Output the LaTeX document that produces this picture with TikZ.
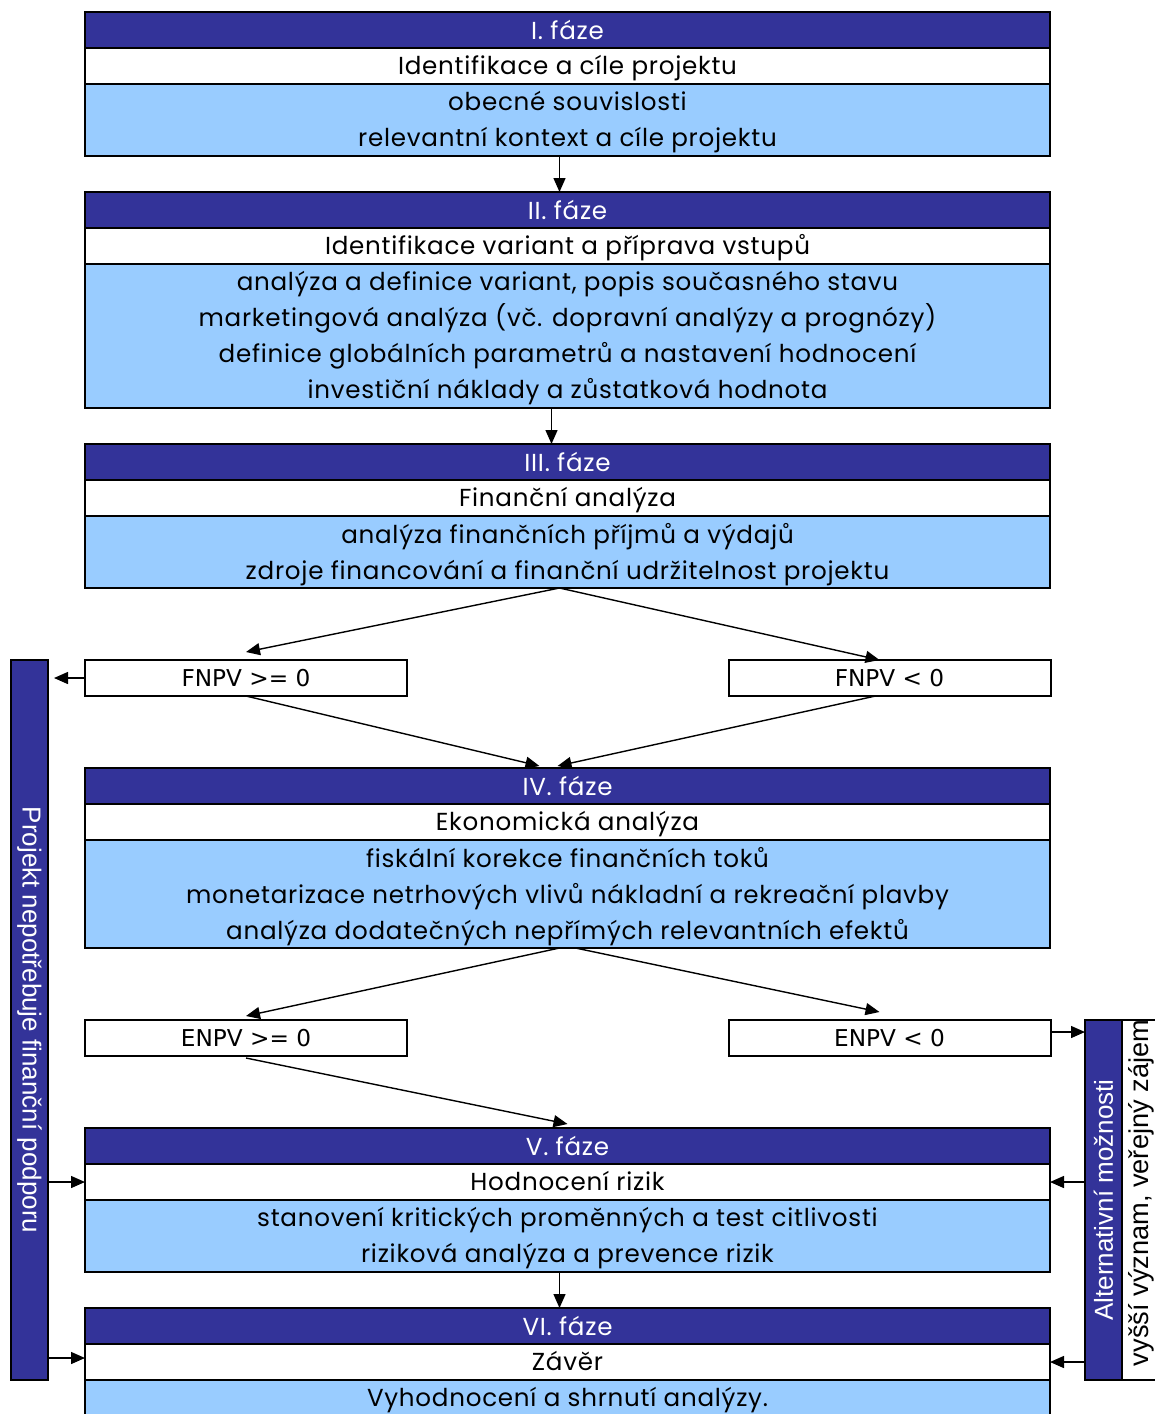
\documentclass[tikz,border=0pt]{standalone}
\usepackage{fontspec}
\setmainfont[LetterSpace=3]{Poppins}
\newfontfamily\boxfont{DejaVu Sans}
\newfontfamily\barfont{Liberation Sans}
\usetikzlibrary{positioning, arrows.meta}
\definecolor{phaseblue}{HTML}{333399}
\definecolor{bodyblue}{HTML}{99CCFF}
\tikzstyle{phasehead} = [rectangle, draw=black, line width=1pt, fill=phaseblue, text=white, minimum width=482.5pt, minimum height=18pt, inner sep=0pt, outer sep=0pt, font=\fontsize{12.3}{18}\selectfont]
\tikzstyle{phasetitle} = [phasehead, fill=white, text=black, text depth=1.5pt]
\tikzstyle{phasebody} = [phasehead, fill=bodyblue, text=black, align=center, text depth=1pt]
\tikzstyle{result} = [rectangle, draw=black, line width=1pt, fill=white, minimum width=161pt, minimum height=18pt, inner sep=0pt, outer sep=0pt, font=\boxfont\fontsize{11.6}{13}\selectfont]
\tikzstyle{sidebar} = [rectangle, draw=black, line width=1pt, fill=phaseblue, text=white, minimum height=18.5pt, inner sep=0pt, outer sep=0pt, font=\barfont\fontsize{13}{15}\selectfont]
\tikzstyle{arrow} = [line width=0.7pt, -{Triangle[length=7pt,width=6pt]}]
\tikzstyle{line} = [line width=0.7pt]

\begin{document}
\begin{tikzpicture}[x=0.5pt, y=-0.5pt]
    \useasboundingbox (0,0) rectangle (1155,1414);
    \clip (0,0) rectangle (1155,1414);

    % I. faze
    \node (p1h) [phasehead] at (567.5,30) {I. fáze};
    \node (p1t) [phasetitle, below=0pt of p1h] {Identifikace a cíle projektu};
    \node (p1b) [phasebody, below=0pt of p1t, minimum height=36pt] {obecné souvislosti\\relevantní kontext a cíle projektu};

    % II. faze
    \node (p2h) [phasehead] at (567.5,210) {II. fáze};
    \node (p2t) [phasetitle, below=0pt of p2h] {Identifikace variant a příprava vstupů};
    \node (p2b) [phasebody, below=0pt of p2t, minimum height=72pt] {analýza a definice variant, popis současného stavu\\marketingová analýza (vč. dopravní analýzy a prognózy)\\definice globálních parametrů a nastavení hodnocení\\investiční náklady a zůstatková hodnota};

    % III. faze
    \node (p3h) [phasehead] at (567.5,462) {III. fáze};
    \node (p3t) [phasetitle, below=0pt of p3h] {Finanční analýza};
    \node (p3b) [phasebody, below=0pt of p3t, minimum height=36pt] {analýza finančních příjmů a výdajů\\zdroje financování a finanční udržitelnost projektu};

    \node (fnpv1) [result] at (246,678) {FNPV >= 0};
    \node (fnpv2) [result] at (889.5,678) {FNPV < 0};

    % IV. faze
    \node (p4h) [phasehead] at (567.5,786) {IV. fáze};
    \node (p4t) [phasetitle, below=0pt of p4h] {Ekonomická analýza};
    \node (p4b) [phasebody, below=0pt of p4t, minimum height=54pt] {fiskální korekce finančních toků\\monetarizace netrhových vlivů nákladní a rekreační plavby\\analýza dodatečných nepřímých relevantních efektů};

    \node (enpv1) [result] at (246,1038) {ENPV >= 0};
    \node (enpv2) [result] at (889.5,1038) {ENPV < 0};

    % V. faze
    \node (p5h) [phasehead] at (567.5,1146) {V. fáze};
    \node (p5t) [phasetitle, below=0pt of p5h] {Hodnocení rizik};
    \node (p5b) [phasebody, below=0pt of p5t, minimum height=36pt] {stanovení kritických proměnných a test citlivosti\\riziková analýza a prevence rizik};

    % VI. faze
    \node (p6h) [phasehead] at (567.5,1326) {VI. fáze};
    \node (p6t) [phasetitle, below=0pt of p6h] {Závěr};
    \node (p6b) [phasebody, below=0pt of p6t, minimum height=18pt] {Vyhodnocení a shrnutí analýzy.};

    % side bars
    \node (nofund) [sidebar, rotate=-90, minimum width=360pt] at (29.5,1020) {Projekt nepotřebuje finanční podporu};
    \node (alt) [sidebar, rotate=90, minimum width=180pt] at (1103.5,1200) {Alternativní možnosti};
    \node (interest) [sidebar, rotate=90, minimum width=180pt, minimum height=19pt, fill=white, text=black, font=\barfont\fontsize{13.6}{15}\selectfont] at (1141,1200) {\hspace*{7pt}vyšší význam, veřejný zájem};

    \draw [arrow] ([xshift=-4pt]p1b.south) -- ([xshift=-4pt]p2h.north);
    \draw [arrow] ([xshift=-8pt]p2b.south) -- ([xshift=-8pt]p3h.north);

    \draw [arrow] ([xshift=-4pt]p3b.south) -- ([yshift=4pt]fnpv1.north);
    \draw [arrow] ([xshift=-4pt]p3b.south) -- ([xshift=-5pt]fnpv2.north);
    \draw [arrow] (fnpv1.south) -- ([xshift=-14pt,yshift=1pt]p4h.north);
    \draw [arrow] ([xshift=-7pt]fnpv2.south) -- ([xshift=-5pt,yshift=1pt]p4h.north);

    \draw [arrow] ([xshift=-4pt]p4b.south) -- ([yshift=2pt]enpv1.north);
    \draw [arrow] ([xshift=4pt]p4b.south) -- ([xshift=-5pt,yshift=4pt]enpv2.north);
    \draw [arrow] ([yshift=-1pt]enpv1.south) -- ([yshift=2pt]p5h.north);

    \draw [arrow] ([xshift=-4pt]p5b.south) -- ([xshift=-4pt]p6h.north);

    \draw [arrow] (fnpv1.west) -- ([xshift=3pt]fnpv1.west -| nofund.north);
    \draw [arrow] (nofund.north |- p5t.west) -- (p5t.west);
    \draw [arrow] ([yshift=2pt]nofund.north |- p6t.west) -- ([yshift=2pt]p6t.west);

    \draw [arrow] ([yshift=3pt]enpv2.east) -- ([yshift=3pt]enpv2.east -| alt.north);
    \draw [arrow] (alt.north |- p5t.east) -- (p5t.east);
    \draw [arrow] (alt.north |- p6t.east) -- (p6t.east);
\end{tikzpicture}
\end{document}
